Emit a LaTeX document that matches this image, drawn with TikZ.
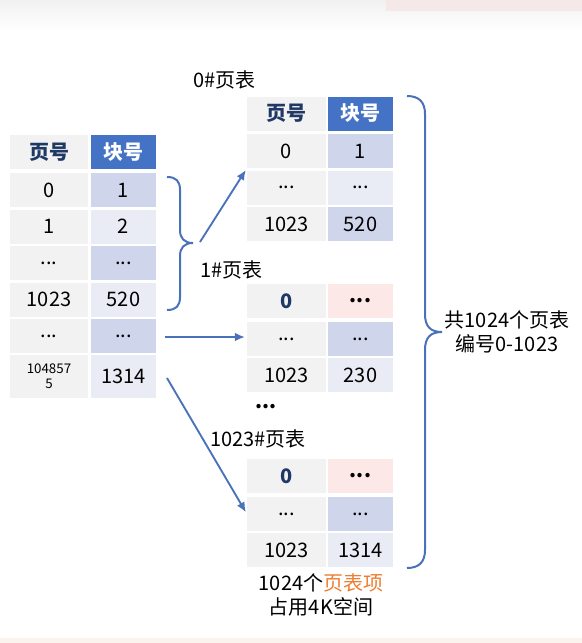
\documentclass[tikz,border=0pt]{standalone}
\usepackage{fontspec}
\setmainfont{Noto Sans CJK SC}
\usetikzlibrary{arrows.meta}
\definecolor{cg}{HTML}{F2F2F2}
\definecolor{cdark}{HTML}{CFD5EA}
\definecolor{clight}{HTML}{E9EBF5}
\definecolor{hblue}{HTML}{4472C4}
\definecolor{navy}{HTML}{1F3864}
\definecolor{cpink}{HTML}{FCE9E7}
\definecolor{lineblue}{HTML}{4A72BA}
\definecolor{orangetxt}{HTML}{ED7D31}
\definecolor{topg}{HTML}{F1F1F1}
\definecolor{pinkband}{HTML}{F4E9E8}
\definecolor{botband}{HTML}{FAF3EE}
\newcommand\cellfont{\fontsize{15}{17.5}\selectfont}
\newcommand\smallnum{\fontsize{10}{11}\selectfont}
\tikzset{
  cell/.style={minimum height=25.5pt, inner sep=0pt, font=\cellfont, text=black, anchor=center},
  lc/.style={cell, fill=cg, minimum width=59pt},
  rc/.style={cell, minimum width=49pt},
  hdl/.style={lc, text=navy, font=\cellfont\bfseries},
  hdr/.style={rc, fill=hblue, text=white, font=\cellfont\bfseries},
  dk/.style={rc, fill=cdark},
  lt/.style={rc, fill=clight},
  pk/.style={rc, fill=cpink, font=\cellfont\bfseries},
  nv/.style={lc, text=navy, font=\cellfont\bfseries},
  lbl/.style={font=\cellfont, inner sep=0pt, text=black},
  arr/.style={draw=lineblue, line width=1.4pt, -{Latex[length=7.5pt,width=6.5pt]}},
  brc/.style={draw=lineblue, line width=1.5pt}
}
\begin{document}
\begin{tikzpicture}[x=0.75pt,y=-0.75pt]
\useasboundingbox (0,0) rectangle (582,643);
\fill[white] (0,0) rectangle (582,643);
\shade[top color=topg,bottom color=white] (0,0) rectangle (582,30);
\fill[pinkband] (386,0) rectangle (582,11);
\fill[botband] (0,638) rectangle (582,643);

% ---- left table
\node[hdl] (Lh1) at (49,152) {页号};
\node[hdr] (Lh2) at (123.5,152) {块号};
\node[lc] (L1a) at (49,190) {0};
\node[dk] (L1b) at (123.5,190) {1};
\node[lc] (L2a) at (49,226.5) {1};
\node[lt] (L2b) at (123.5,226.5) {2};
\node[lc] (L3a) at (49,263) {...};
\node[dk] (L3b) at (123.5,263) {...};
\node[lc] (L4a) at (49,299.5) {1023};
\node[lt] (L4b) at (123.5,299.5) {520};
\node[lc] (L5a) at (49,336) {...};
\node[dk] (L5b) at (123.5,336) {...};
\node[lc, minimum height=32.25pt, align=center, font=\smallnum] (L6a) at (49,376.5) {104857\\5};
\node[lt, minimum height=32.25pt] (L6b) at (123.5,376.5) {1314};

% ---- 0# table
\node[lbl, anchor=west] (t0) at (193,80) {0\#页表};
\node[hdl] (T0h1) at (286.5,113.5) {页号};
\node[hdr] (T0h2) at (360.5,113.5) {块号};
\node[lc] (T0r1a) at (286.5,151) {0};
\node[dk] (T0r1b) at (360.5,151) {1};
\node[lc] (T0r2a) at (286.5,187.5) {...};
\node[lt] (T0r2b) at (360.5,187.5) {...};
\node[lc] (T0r3a) at (286.5,224) {1023};
\node[dk] (T0r3b) at (360.5,224) {520};

% ---- 1# table
\node[lbl, anchor=west] (t1) at (200,270) {1\#页表};
\node[nv] (T1r0a) at (286.5,301) {0};
\node[pk] (T1r0b) at (360.5,301) {...};
\node[lc] (T1r1a) at (286.5,339) {...};
\node[dk] (T1r1b) at (360.5,339) {...};
\node[lc] (T1r2a) at (286.5,375) {1023};
\node[lt] (T1r2b) at (360.5,375) {230};

\node[lbl, font=\cellfont\bfseries] (vd) at (266,407) {...};

% ---- 1023# table
\node[lbl, anchor=west] (t2) at (210,439) {1023\#页表};
\node[nv] (T2r0a) at (286.5,476) {0};
\node[pk] (T2r0b) at (360.5,476) {...};
\node[lc] (T2r1a) at (286.5,514) {...};
\node[dk] (T2r1b) at (360.5,514) {...};
\node[lc] (T2r2a) at (286.5,550) {1023};
\node[lt] (T2r2b) at (360.5,550) {1314};

\node[lbl, align=center] (note) at (321,595) {1024个\textcolor{orangetxt}{页表项}\\占用4K空间};
\node[lbl, align=center] (tot) at (507,332) {共1024个页表\\编号0-1023};

% ---- braces
\draw[brc] (167,177) .. controls (176,177) and (180,181) .. (180,190) -- (180,230)
  .. controls (180,238) and (184,243) .. (193,243)
  .. controls (184,243) and (180,248) .. (180,256) -- (180,297)
  .. controls (180,306) and (176,310) .. (167,310);
\coordinate (btip) at (200,242);
\draw[brc] (407,96) .. controls (419,96) and (425,102) .. (425,114) -- (425,314)
  .. controls (425,326) and (430,332) .. (442,332)
  .. controls (430,332) and (425,338) .. (425,350) -- (425,550)
  .. controls (425,562) and (419,568) .. (407,568);

% ---- arrows
\coordinate (a2s) at (165,337);
\coordinate (a3s) at (167,378);
\draw[arr, shorten >=1.5pt] (btip) -- (T0r1a.south west);
\draw[arr, shorten >=1.5pt] (a2s) -- (a2s -| T1r1a.west);
\draw[arr, shorten >=1.5pt] (a3s) -- (T2r1a.west);
\end{tikzpicture}
\end{document}
